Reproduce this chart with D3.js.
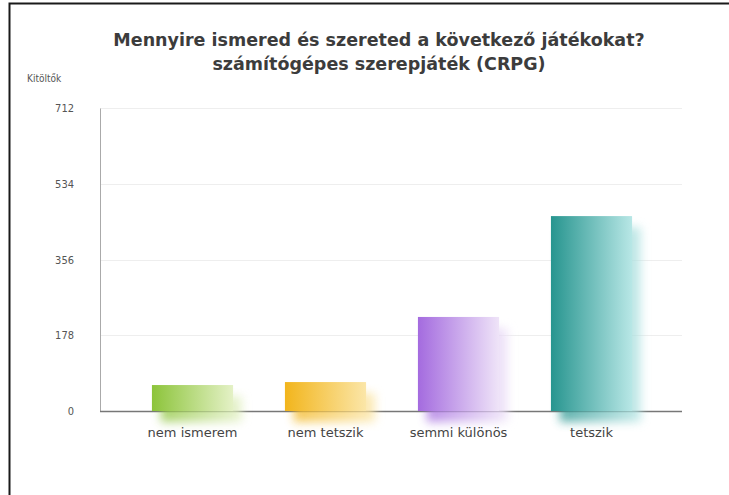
<!DOCTYPE html>
<html>
<head>
<meta charset="utf-8">
<script src="https://cdn.jsdelivr.net/npm/d3@7"></script>
<style>
  body { margin: 0; background: #fff; }
  text { font-family: "DejaVu Sans", sans-serif; }
</style>
</head>
<body>
<div id="view"></div>
<script>
var width = 729, height = 495;

// data
var categories = ["nem ismerem", "nem tetszik", "semmi különös", "tetszik"];
var values = [61, 68, 221, 458];
var tickValues = [0, 178, 356, 534, 712];
var titleLines = ["Mennyire ismered és szereted a következő játékokat?", "számítógépes szerepjáték (CRPG)"];
var yTitle = "Kitöltők";
var colorsDark = ["#8cc43a", "#f2b51c", "#a46bdf", "#27958f"];
var colorsLight = ["#e4f1c6", "#fbe6a8", "#efe4f8", "#b8e7e6"];

var svg = d3.select("#view").append("svg")
	.attr("width", width)
	.attr("height", height);

// outer frame (only top and left visible)
svg.append("path")
	.attr("d", "M9.5,495 L9.5,3.5 L729,3.5")
	.style("fill", "none")
	.style("stroke", "#1a1a1a")
	.style("stroke-width", 2);

var x = d3.scaleBand()
	.domain(categories)
	.range([126, 658])
	.paddingInner(0.39)
	.paddingOuter(0.195);

var y = d3.scaleLinear()
	.domain([0, 712])
	.range([411, 108]);

var defs = svg.append("defs");
categories.forEach(function(c, i) {
	var g = defs.append("linearGradient")
		.attr("id", "grad" + i)
		.attr("x1", "0%").attr("x2", "100%")
		.attr("y1", "0%").attr("y2", "0%");
	g.append("stop").attr("offset", "0%").attr("stop-color", colorsDark[i]);
	g.append("stop").attr("offset", "100%").attr("stop-color", colorsLight[i]);
});
defs.append("filter").attr("id", "blur")
	.attr("x", "-30%").attr("y", "-30%").attr("width", "160%").attr("height", "160%")
	.append("feGaussianBlur").attr("stdDeviation", 5);

// grid lines
svg.selectAll(".grid")
	.data(tickValues.slice(1)).enter()
	.append("line")
	.attr("x1", 100).attr("x2", 682)
	.attr("y1", function(d) { return Math.round(y(d)) + 0.5; })
	.attr("y2", function(d) { return Math.round(y(d)) + 0.5; })
	.style("stroke", "#eeeeee");

// y axis
var yAxis = svg.append("g")
	.attr("transform", "translate(100,0)")
	.call(d3.axisLeft(y).tickValues(tickValues).tickSize(0).tickPadding(26));
yAxis.select(".domain").style("stroke", "#aaaaaa");
yAxis.selectAll("text")
	.style("font-family", "'DejaVu Sans Condensed', sans-serif")
	.style("font-size", "11px")
	.style("fill", "#555");

svg.append("text")
	.attr("x", 27).attr("y", 82)
	.style("font-family", "'DejaVu Sans Condensed', sans-serif")
	.style("font-size", "10px")
	.style("fill", "#555")
	.text(yTitle);

// x axis
svg.append("line")
	.attr("x1", 100).attr("x2", 682)
	.attr("y1", 411.5).attr("y2", 411.5)
	.style("stroke", "#777")
	.style("stroke-width", 1.5);

// bar shadows
svg.selectAll(".shadow")
	.data(values).enter()
	.append("rect")
	.attr("class", "shadow")
	.attr("x", function(d, i) { return x(categories[i]) + 9; })
	.attr("y", function(d) { return y(d) + 11; })
	.attr("width", x.bandwidth())
	.attr("height", function(d) { return y(0) - y(d); })
	.style("fill", function(d, i) { return "url(#grad" + i + ")"; })
	.style("opacity", 0.75)
	.attr("filter", "url(#blur)");

// bars
svg.selectAll(".bar")
	.data(values).enter()
	.append("rect")
	.attr("class", "bar")
	.attr("x", function(d, i) { return x(categories[i]); })
	.attr("y", function(d) { return y(d); })
	.attr("width", x.bandwidth())
	.attr("height", function(d) { return y(0) - y(d); })
	.style("fill", function(d, i) { return "url(#grad" + i + ")"; });

svg.selectAll(".xlabel")
	.data(categories).enter()
	.append("text")
	.attr("x", function(d) { return x(d) + x.bandwidth() / 2; })
	.attr("y", 437)
	.attr("text-anchor", "middle")
	.style("font-size", "13px")
	.style("fill", "#444")
	.text(function(d) { return d; });

// title
svg.selectAll(".title")
	.data(titleLines).enter()
	.append("text")
	.attr("x", 379)
	.attr("y", function(d, i) { return 46 + i * 24; })
	.attr("text-anchor", "middle")
	.style("font-size", "17.5px")
	.style("font-weight", "bold")
	.style("fill", "#3c3c3c")
	.text(function(d) { return d; });
</script>
</body>
</html>
